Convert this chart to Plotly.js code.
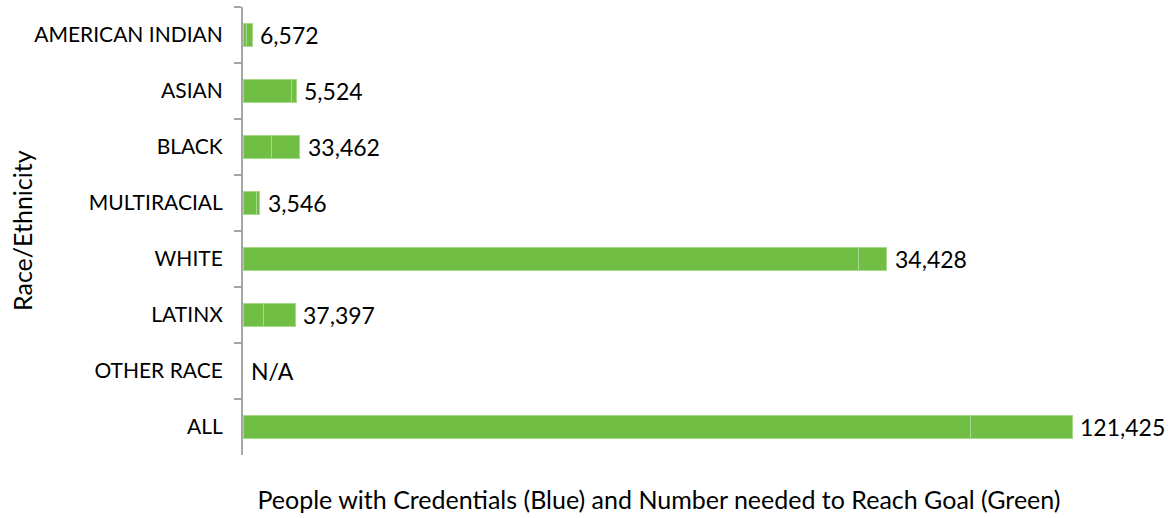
<!DOCTYPE html>
<html>
<head>
<meta charset="utf-8">
<script src="https://cdn.plot.ly/plotly-3.0.1.min.js"></script>
<style>html,body{margin:0;padding:0;background:#fff;}#chart{width:1168px;height:518px;}</style>
</head>
<body>
<div id="chart"></div>
<script>
const categories = ["AMERICAN INDIAN","ASIAN","BLACK","MULTIRACIAL","WHITE","LATINX","OTHER RACE","ALL"];
const withCredentials = [4400, 58300, 34400, 16500, 735500, 24900, null, 870200];
const neededToGoal = [6572, 5524, 33462, 3546, 34428, 37397, null, 121425];
const labelTexts = ["6,572","5,524","33,462","3,546","34,428","37,397","N/A","121,425"];
const yTitle = 'Race/Ethnicity';
const xTitle = 'People with Credentials (Blue) and Number needed to Reach Goal (Green)';

const green = '#70BF44';
const seam = '#A8D88C';
const font = 'Lato, "Open Sans", sans-serif';

const traces = [
  {type:'bar', orientation:'h', name:'People with Credentials', y:categories, x:withCredentials,
   marker:{color:green, line:{color:seam, width:1}}, hoverinfo:'x+y'},
  {type:'bar', orientation:'h', name:'Number needed to Reach Goal', y:categories, x:neededToGoal,
   marker:{color:green, line:{color:seam, width:1}}, hoverinfo:'x+y'}
];

const annotations = categories.map((c,i)=>({
  x: (withCredentials[i]||0) + (neededToGoal[i]||0), y: c, xref:'x', yref:'y',
  text: labelTexts[i], showarrow:false, xanchor:'left', yanchor:'middle', xshift:6,
  font:{family:font, size:23, color:'#000'}
}));
annotations.push({
  text: yTitle, xref:'paper', yref:'paper', x:-0.2656, y:0.5, textangle:-90,
  showarrow:false, xanchor:'center', yanchor:'middle',
  font:{family:font, size:25, color:'#000'}
});

const layout = {
  width:1168, height:518,
  margin:{l:243, r:93, t:7, b:63},
  barmode:'stack', bargap:0.6, showlegend:false,
  paper_bgcolor:'#fff', plot_bgcolor:'#fff',
  font:{family:font, color:'#000'},
  xaxis:{range:[0, 995000], showgrid:false, zeroline:false, showline:false, showticklabels:false, ticks:'',
         title:{text:xTitle, font:{family:font, size:25, color:'#000'}, standoff:36}},
  yaxis:{type:'category', categoryorder:'array', categoryarray:categories, autorange:'reversed',
         showgrid:false, zeroline:false, showline:true, linecolor:'#A6A6A6', linewidth:2,
         ticks:'outside', tickson:'boundaries', ticklen:7, tickcolor:'#A6A6A6', tickwidth:1.5,
         ticklabelstandoff:14, tickfont:{family:font, size:21, color:'#000'}},
  annotations: annotations
};

Plotly.newPlot('chart', traces, layout, {displayModeBar:false, staticPlot:true});
</script>
</body>
</html>
